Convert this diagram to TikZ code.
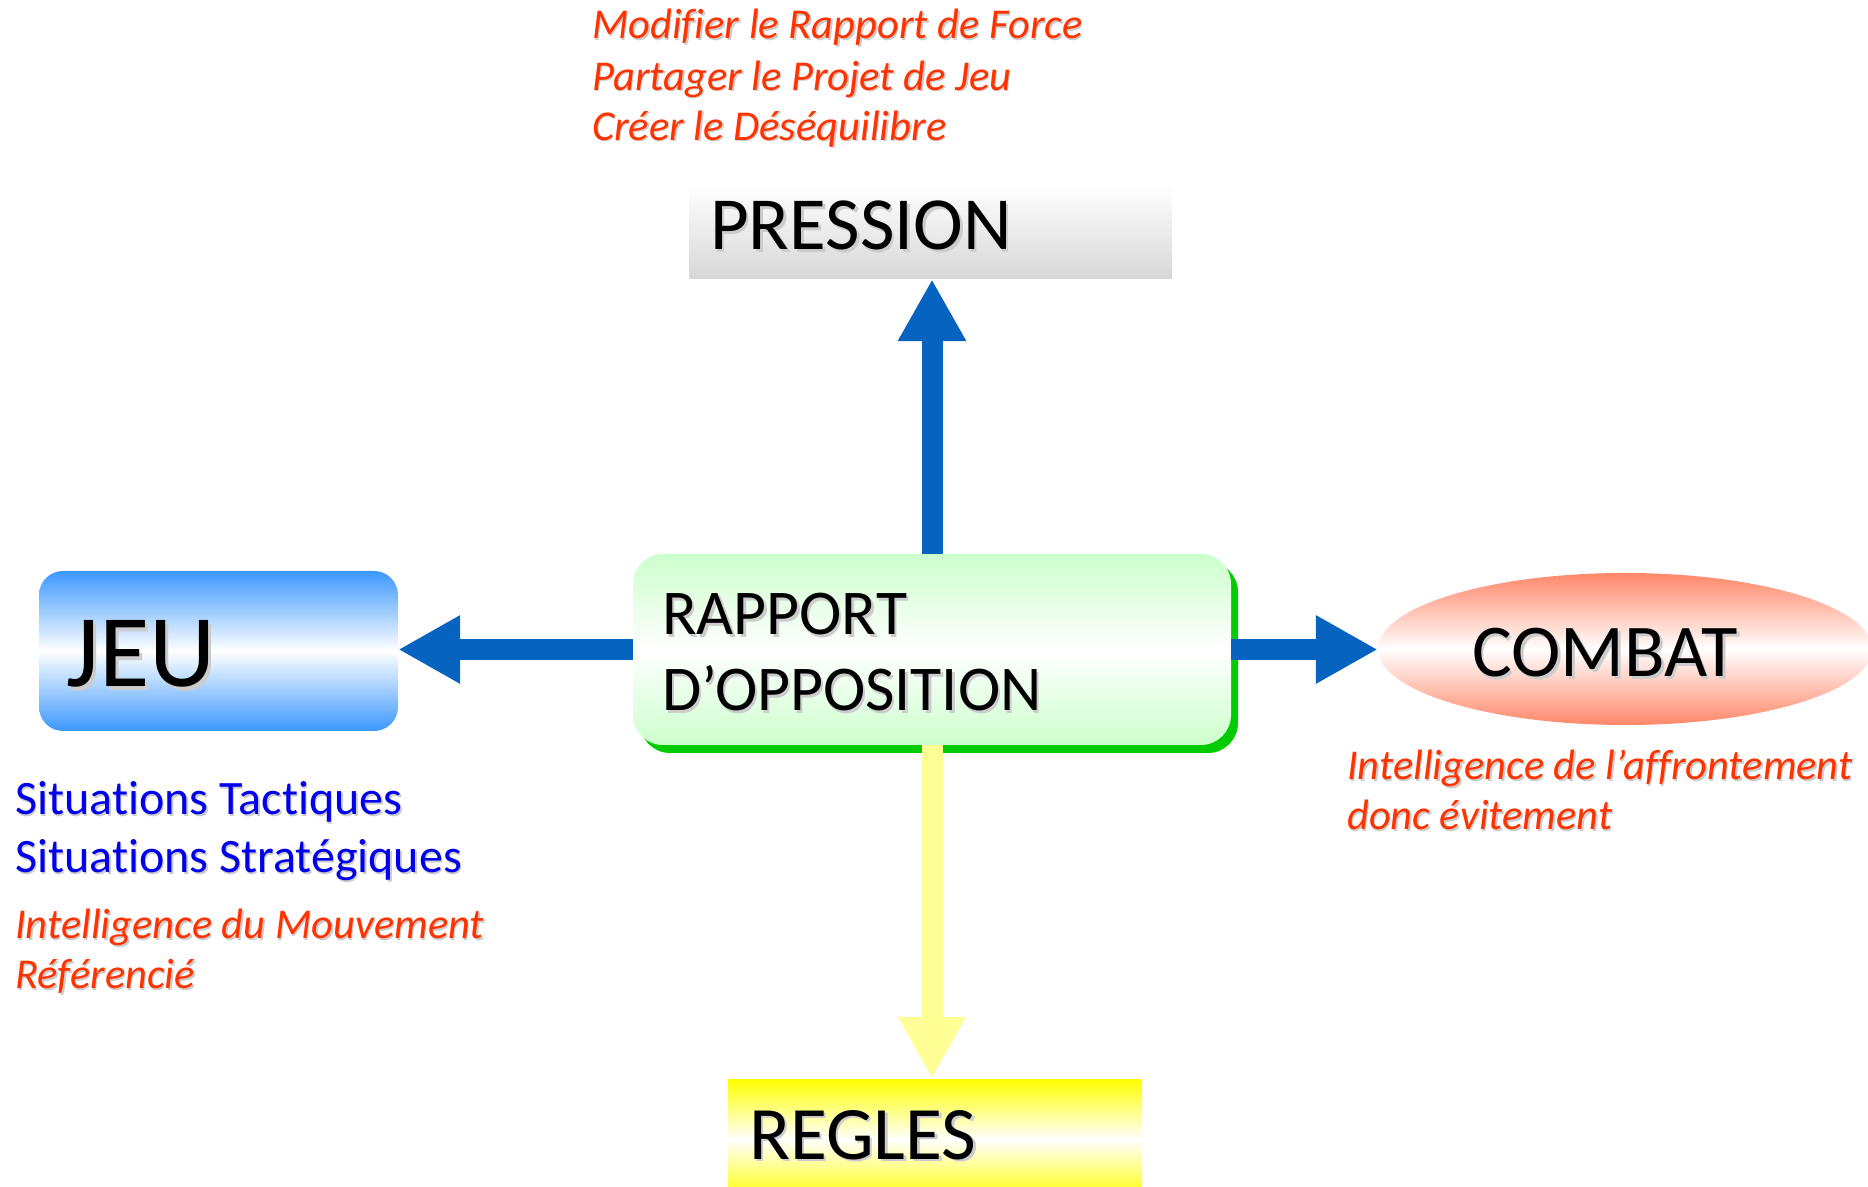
\documentclass[tikz,border=0pt]{standalone}
\usepackage{fontspec}
\setmainfont{Carlito}[Ligatures=NoCommon]
\usetikzlibrary{arrows.meta,shapes.geometric,shadows}
\definecolor{redtxt}{RGB}{255,51,0}
\definecolor{bluetxt}{RGB}{0,0,235}
\definecolor{arrblue}{RGB}{6,100,192}
\definecolor{arryellow}{RGB}{255,255,150}
\definecolor{jeublue}{RGB}{60,152,255}
\definecolor{boxgreen}{RGB}{204,255,204}
\definecolor{shgreen}{RGB}{0,204,0}
\definecolor{salmon}{RGB}{255,135,105}
\definecolor{regyellow}{RGB}{255,255,0}
\definecolor{pgrey}{RGB}{215,215,215}
\newcommand\shd[1]{\rlap{\kern0.035em\raisebox{-0.035em}{\color{black!20}#1}}#1}
\begin{document}
\begin{tikzpicture}[x=1pt,y=1pt,
  boxbase/.style={inner sep=0pt, draw=none},
  pressbox/.style={boxbase, rectangle, top color=white, bottom color=pgrey},
  centerbox/.style={boxbase, rectangle, rounded corners=30pt, top color=boxgreen, bottom color=boxgreen, middle color=white,
    drop shadow={shadow xshift=7pt, shadow yshift=-8pt, fill=shgreen, opacity=1}},
  jeubox/.style={boxbase, rectangle, rounded corners=24pt, top color=jeublue, bottom color=jeublue, middle color=white},
  combatell/.style={boxbase, ellipse, top color=salmon, bottom color=salmon, middle color=white},
  reglesbox/.style={boxbase, rectangle, top color=regyellow, bottom color=regyellow, middle color=white},
  bluearrow/.style={draw=arrblue, line width=21pt, line cap=butt, -{Triangle[length=62pt,width=64pt,fill=arrblue]}},
  yellowarrow/.style={draw=arryellow, line width=21pt, line cap=butt, -{Triangle[length=62pt,width=63pt,fill=arryellow]}},
  redline/.style={anchor=base west, inner sep=0pt, text=redtxt, font=\fontsize{42.5}{51}\selectfont\itshape},
  blueline/.style={anchor=base west, inner sep=0pt, text=bluetxt, font=\fontsize{48}{58}\selectfont},
  boxtext/.style={anchor=base west, inner sep=0pt, text=black},
]
\useasboundingbox (0,0) rectangle (1868,1186);

% boxes
\node[pressbox, minimum width=483pt, minimum height=94pt] (pression) at (930.5,954) {};
\node[centerbox, minimum width=598pt, minimum height=191pt] (center) at (932,536.5) {};
\node[jeubox, minimum width=359pt, minimum height=160pt] (jeu) at (218.5,535) {};
\node[combatell, minimum width=494pt, minimum height=152pt] (combat) at (1625,537) {};
\node[reglesbox, minimum width=414pt, minimum height=121pt] (regles) at (935,46.5) {};

% connectors
\draw[bluearrow] (center.north) -- (center.north |- pression.south);
\draw[bluearrow] (center.west) -- (center.west -| jeu.east);
\draw[bluearrow] (center.east) -- (center.east -| combat.west);
\draw[yellowarrow] (center.south) -- (center.south |- regles.north);

% box texts
\node[boxtext, font=\fontsize{75}{80}\selectfont] (ptxt) at (710,936) {\shd{PRESSION}};
\node[boxtext, font=\fontsize{63.8}{70}\selectfont] (rtxt1) at (662,551) {\shd{RAPPORT}};
\node[boxtext, font=\fontsize{63.8}{70}\selectfont] (rtxt2) at (662,475) {\shd{D’OPPOSITION}};
\node[boxtext, font=\fontsize{103}{110}\selectfont] (jtxt) at (66,499) {\shd{JEU}};
\node[boxtext, anchor=base, font=\fontsize{74.5}{80}\selectfont] (ctxt) at (1605,509) {\shd{COMBAT}};
\node[boxtext, font=\fontsize{75.5}{80}\selectfont] (gtxt) at (749,27) {\shd{REGLES}};

% annotations
\node[redline] (m1) at (592,1147) {\shd{Modifier le Rapport de Force}};
\node[redline] (m2) at (592,1095.5) {\shd{Partager le Projet de Jeu}};
\node[redline] (m3) at (592,1045.5) {\shd{Créer le Déséquilibre}};

\node[redline] (i1) at (1347,406) {\shd{Intelligence de l’affrontement}};
\node[redline] (i2) at (1347,356) {\shd{donc évitement}};

\node[blueline] (s1) at (15,371) {\shd{Situations Tactiques}};
\node[blueline] (s2) at (15,313) {\shd{Situations Stratégiques}};

\node[redline] (r1) at (15,247) {\shd{Intelligence du Mouvement}};
\node[redline] (r2) at (15,197) {\shd{Référencié}};
\end{tikzpicture}
\end{document}
